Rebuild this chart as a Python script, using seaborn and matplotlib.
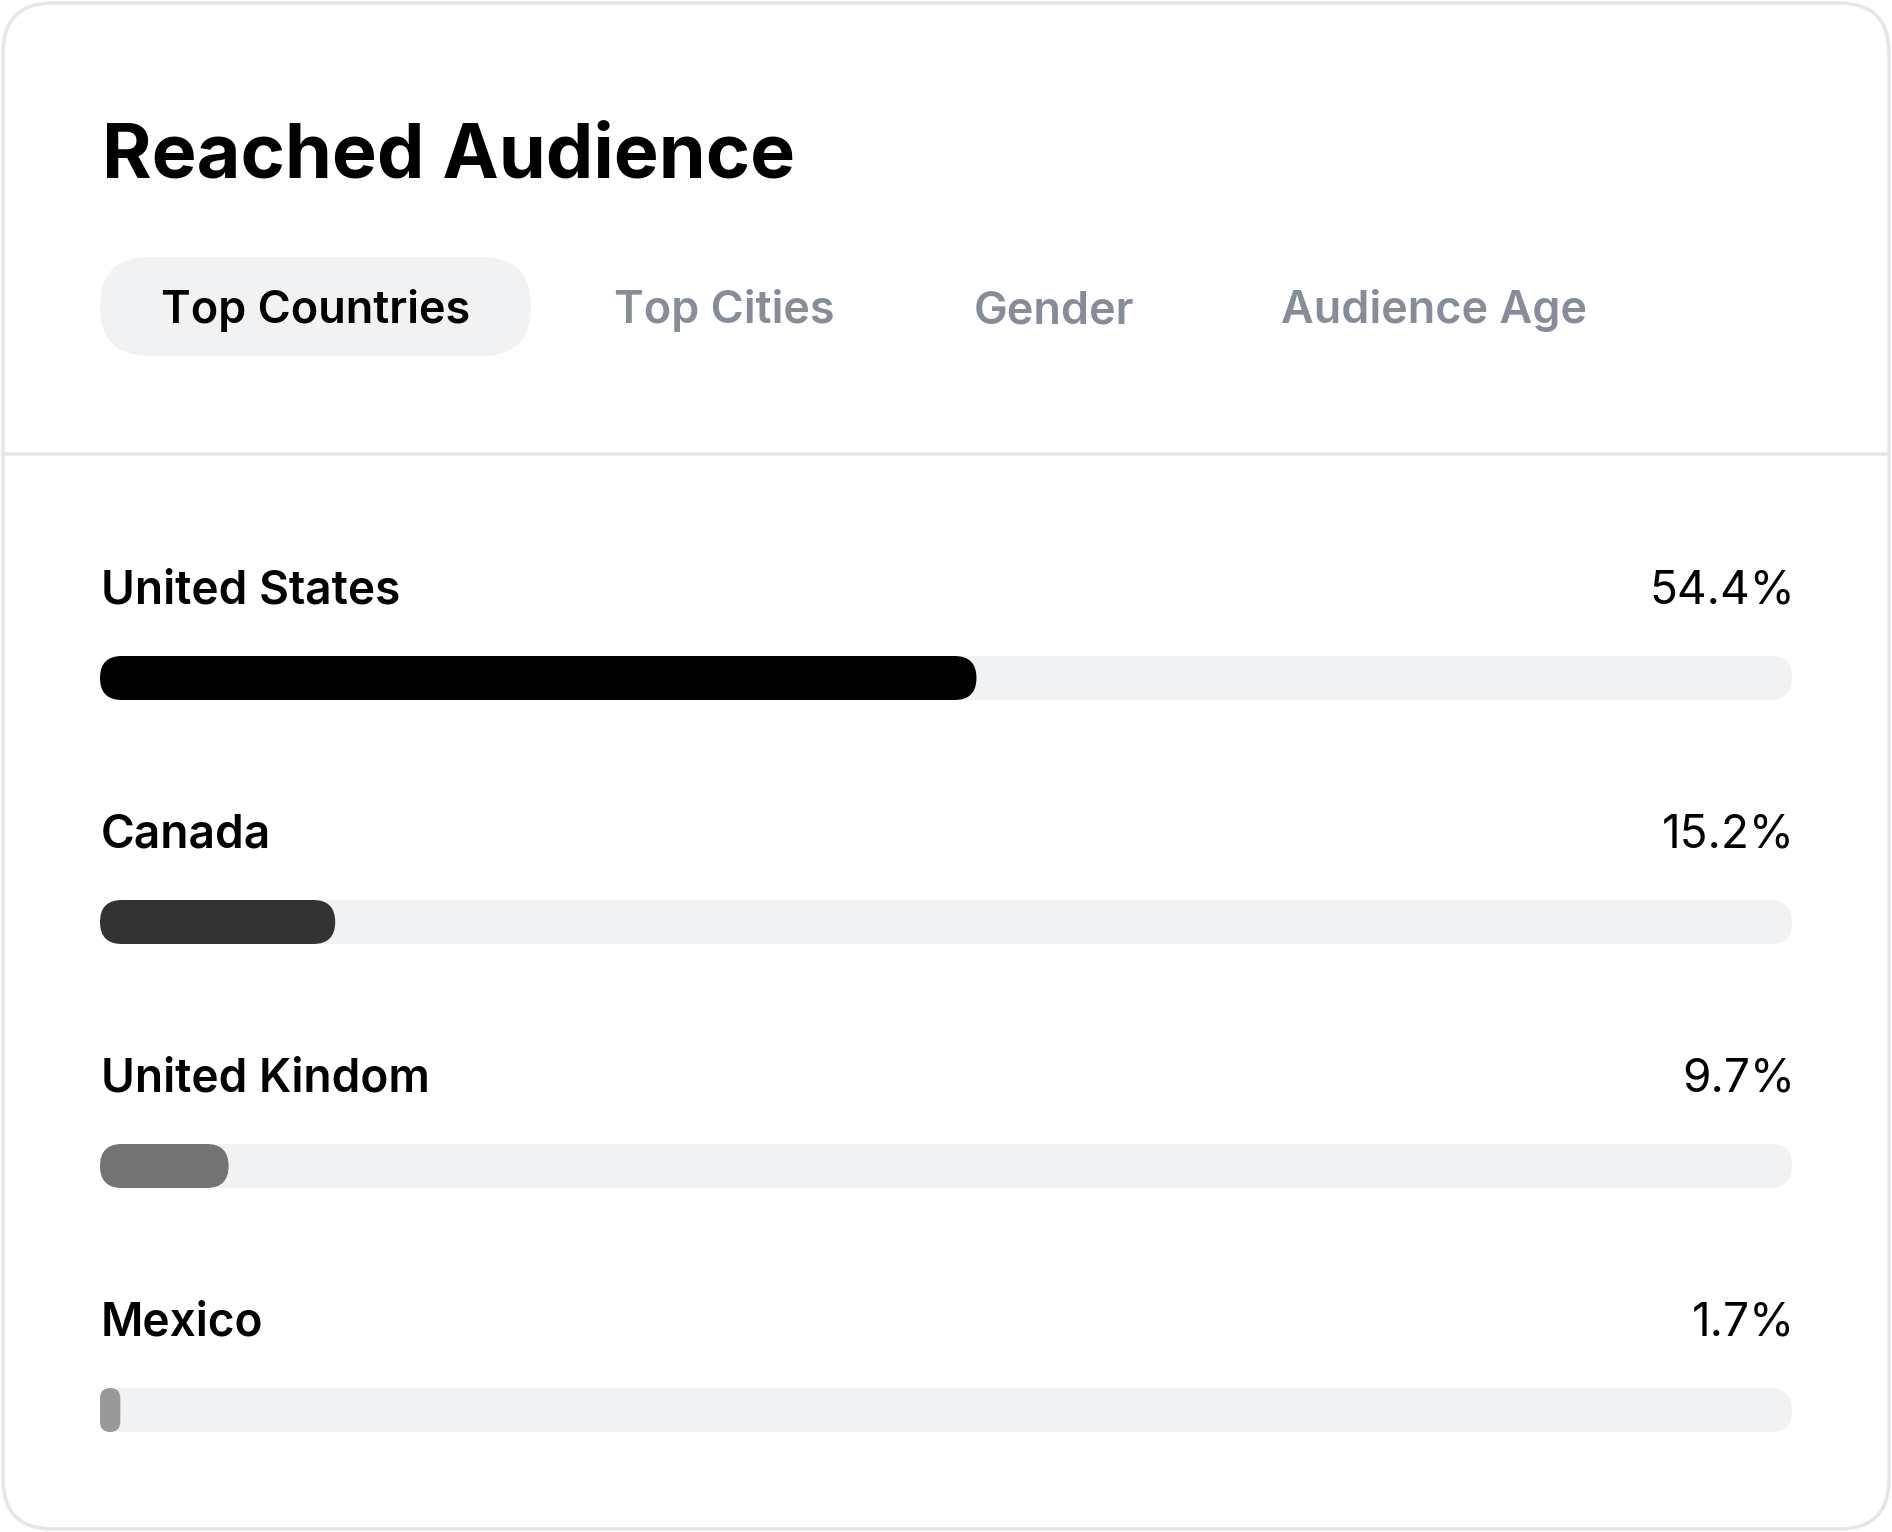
import numpy as np
import pandas as pd
import matplotlib
matplotlib.use("Agg")
import matplotlib.pyplot as plt
import seaborn as sns
from matplotlib.patches import FancyBboxPatch, Rectangle
from matplotlib import transforms

# ---------------- data ----------------
title = "Reached Audience"
tabs = ["Top Countries", "Top Cities", "Gender", "Audience Age"]
countries = ["United States", "Canada", "United Kindom", "Mexico"]
share_labels = ["54.4%", "15.2%", "9.7%", "1.7%"]
# bar fill lengths as drawn in the picture (percent of the track)
bar_fill = [51.8, 13.9, 7.6, 1.2]
track_max = [100, 100, 100, 100]
bar_colors = ["#000000", "#333333", "#737373", "#999999"]

# ---------------- style ----------------
sns.set_theme(style="white")
plt.rcParams["font.family"] = ["Inter", "DejaVu Sans"]

W, H = 1892, 1532
DPI = 100
fig = plt.figure(figsize=(W / DPI, H / DPI), dpi=DPI)
fig.patch.set_facecolor("white")

PT = 72 / DPI  # px -> pt

# decoration axes in pixel coordinates
deco = fig.add_axes([0, 0, 1, 1])
deco.set_xlim(0, W)
deco.set_ylim(H, 0)
deco.axis("off")
deco.set_zorder(0)

# card border
card = FancyBboxPatch((3, 3), W - 6, H - 6,
                      boxstyle="round,pad=0,rounding_size=50",
                      facecolor="white", edgecolor="#e4e6ea", linewidth=3.5 * PT)
deco.add_patch(card)
# divider
deco.plot([3, W - 3], [454, 454], color="#e4e6ea", linewidth=3.5 * PT,
          solid_capstyle="butt")

# title
deco.text(102, 177, title, fontsize=75.5 * PT, fontweight="bold", color="#000000",
          ha="left", va="baseline")

# tabs
pill = FancyBboxPatch((100, 257), 431, 99,
                      boxstyle="round,pad=0,rounding_size=49.5",
                      facecolor="#f1f2f4", edgecolor="none")
deco.add_patch(pill)
tab_x = [315.5, 614, 974, 1281]
tab_ha = ["center", "left", "left", "left"]
for i, (t, x, ha) in enumerate(zip(tabs, tab_x, tab_ha)):
    deco.text(x, 323, t, fontsize=45 * PT, fontweight="semibold",
              color="#000000" if i == 0 else "#868c99", ha=ha, va="baseline")

# ---------------- bars ----------------
track_left, track_right = 100, 1792
row0, row_gap = 678, 244
ax_top = row0 - row_gap / 2
ax = fig.add_axes([track_left / W, 0, (track_right - track_left) / W, (H - ax_top) / H])
ax.set_zorder(1)
ax.patch.set_facecolor("none")

df = pd.DataFrame({"country": countries, "fill": bar_fill, "track": track_max})
bar_h = 44 / row_gap
sns.barplot(data=df, x="track", y="country", color="#f1f2f4", orient="h",
            width=bar_h, linewidth=0, saturation=1, ax=ax)
sns.barplot(data=df, x="fill", y="country", hue="country", palette=bar_colors,
            orient="h", width=bar_h, linewidth=0, saturation=1, legend=False, ax=ax)
ax.set_xlim(0, 100)
ax.set_ylim(len(countries) - 0.5, -0.5)
ax.axis("off")

# convert rectangles to rounded capsules
fig.canvas.draw()
p0 = ax.transData.transform((0, 0))
p1 = ax.transData.transform((1, 1))
sx = abs(p1[0] - p0[0])
sy = abs(p1[1] - p0[1])
rects = [p for p in ax.patches if isinstance(p, Rectangle)]
for p in rects:
    x, y, w, h = p.get_x(), p.get_y(), p.get_width(), p.get_height()
    r_px = min(w * sx, h * sy) / 2
    fb = FancyBboxPatch((x, y), w, h,
                        boxstyle=f"round,pad=0,rounding_size={r_px / sx}",
                        mutation_aspect=sx / sy,
                        facecolor=p.get_facecolor(), edgecolor="none",
                        zorder=p.get_zorder())
    p.remove()
    ax.add_patch(fb)

# labels above bars
lab_tr = transforms.offset_copy(ax.transData, fig=fig, x=1, y=74, units="dots")
val_tr = transforms.offset_copy(ax.transData, fig=fig, x=3, y=74, units="dots")
for i, (c, s) in enumerate(zip(countries, share_labels)):
    ax.text(0, i, c, transform=lab_tr, fontsize=46 * PT, fontweight="semibold",
            color="#000000", ha="left", va="baseline")
    ax.text(100, i, s, transform=val_tr, fontsize=46 * PT, fontweight="normal",
            color="#000000", ha="right", va="baseline")

fig.savefig("out.png", dpi=DPI, facecolor="white")
